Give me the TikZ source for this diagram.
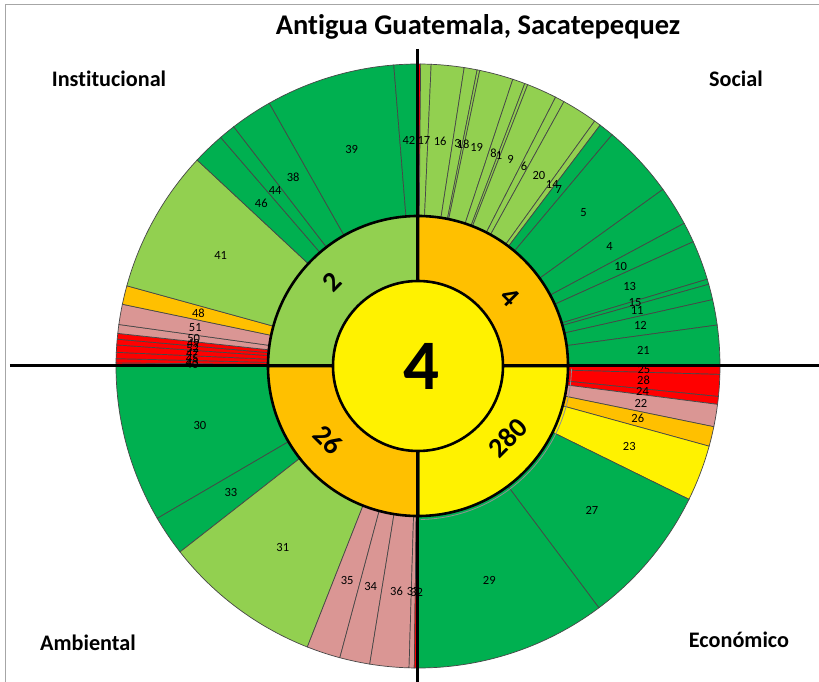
\documentclass[tikz,border=0pt]{standalone}
\usepackage{fontspec}
\setmainfont{Carlito}[Ligatures={NoCommon}]
\definecolor{dkgreen}{HTML}{00B050}
\definecolor{ltgreen}{HTML}{92D050}
\definecolor{amber}{HTML}{FFC000}
\definecolor{rosy}{HTML}{DA9694}
\definecolor{edge}{HTML}{474747}
\definecolor{frame}{HTML}{A6A6A6}
\pgfdeclarelayer{front}
\pgfsetlayers{main,front}
\def\rcore{85}
\def\rring{150}
\def\rout{302}
\def\rlab{226}
\def\ringseg[#1](#2:#3:#4){\draw[seg,fill=#1] (#2:\rring) arc (#2:#3:\rring) -- (#3:\rout) arc (#3:#2:\rout) -- cycle;
	\begin{pgfonlayer}{front}\node[lab] (i#4) at ({(#2+#3)/2}:\rlab) {#4};\end{pgfonlayer}}
\tikzset{
	seg/.style={draw=edge, line width=0.7pt},
	lab/.style={inner sep=0pt, font=\fontsize{12.5}{13}\selectfont},
	ring/.style={draw=black, line width=2.6pt},
	axis/.style={draw=black, line width=3pt},
	area/.style={font=\bfseries\fontsize{22.2}{24}\selectfont, anchor=base},
	quad/.style={font=\bfseries\fontsize{28}{30}\selectfont},
}

\begin{document}
\begin{tikzpicture}[x=1pt, y=1pt]
			%%%%% START %%%%%
			\useasboundingbox (-418,-316) rectangle (401,366);
			\fill[white] (-418,-316) rectangle (401,366);
			\draw[frame, line width=1pt] (-412,-316) -- (-412,361) -- (401,361);
			
			% institucional
			\ringseg[red](180:179.4:40)
			\ringseg[red](179.4:178.6:43)
			\ringseg[red](178.6:177.4:45)
			\ringseg[red](177.4:176:47)
			\ringseg[red](176:174.9:52)
			\ringseg[red](174.9:173.8:49)
			\ringseg[rosy](173.8:172.1:50)
			\ringseg[rosy](172.1:168.2:51)
			\ringseg[amber](168.2:164.6:48)
			\ringseg[ltgreen](164.6:137:41)
			\ringseg[dkgreen](137:130.8:46)
			\ringseg[dkgreen](130.8:127.6:44)
			\ringseg[dkgreen](127.6:119.5:38)
			\ringseg[dkgreen](119.5:94.6:39)
			\ringseg[dkgreen](94.6:90:42)
			
			% social
			\draw[seg, fill=red] (90:\rring) arc (90:89.5:\rring) -- (89.5:\rout) arc (89.5:90:\rout) -- cycle;
			\ringseg[ltgreen](89.5:87.5:17)
			\ringseg[ltgreen](87.5:81.2:16)
			\ringseg[ltgreen](81.2:78.7:3)
			\ringseg[ltgreen](78.7:78.2:18)
			\ringseg[ltgreen](78.2:71.7:19)
			\ringseg[ltgreen](71.7:69.3:8)
			\ringseg[ltgreen](69.3:68.7:1)
			\ringseg[ltgreen](68.7:62.9:9)
			\ringseg[ltgreen](62.9:61.1:6)
			\ringseg[ltgreen](61.1:54.2:20)
			\ringseg[ltgreen](54.2:52.9:14)
			\ringseg[dkgreen](52.9:50:7)
			\ringseg[dkgreen](50:35.8:5)
			\ringseg[dkgreen](35.8:28.2:4)
			\ringseg[dkgreen](28.2:24.3:10)
			\ringseg[dkgreen](24.3:16.7:13)
			\ringseg[dkgreen](16.7:15.7:15)
			\ringseg[dkgreen](15.7:12.7:11)
			\ringseg[dkgreen](12.7:7.8:12)
			\ringseg[dkgreen](7.8:0:21)
			
			% economico
			\ringseg[red](0:-1.6:25)
			\ringseg[red](-1.6:-5.8:28)
			\ringseg[red](-5.8:-7.3:24)
			\ringseg[rosy](-7.3:-11.6:22)
			\ringseg[amber](-11.6:-15.4:26)
			\ringseg[yellow](-15.4:-26.2:23)
			\ringseg[dkgreen](-26.2:-53.2:27)
			\ringseg[dkgreen](-53.2:-90:29)
			
			% ambiental
			\ringseg[dkgreen](180:210.3:30)
			\ringseg[dkgreen](210.3:218:33)
			\ringseg[ltgreen](218:248.5:31)
			\ringseg[rosy](248.5:255:35)
			\ringseg[rosy](255:260.8:34)
			\ringseg[rosy](260.8:268.3:36)
			\ringseg[rosy](268.3:269.3:37)
			\ringseg[red](269.3:270:32)
			
			% middle ring
			\draw[edge!60, line width=0.8pt] (-1:153.5) arc (-1:-89:153.5);
			\draw[ring, fill=ltgreen] (0,0) -- (180:\rring) arc (180:90:\rring) -- cycle;
			\draw[ring, fill=amber] (0,0) -- (90:\rring) arc (90:0:\rring) -- cycle;
			\draw[ring, fill=yellow] (0,0) -- (0:\rring) arc (0:-90:\rring) -- cycle;
			\draw[ring, fill=amber] (0,0) -- (-90:\rring) arc (-90:-180:\rring) -- cycle;
			
			\draw[axis] (-408,0) -- (401,0);
			\draw[axis] (0,317) -- (0,-316);
			
			\draw[ring, fill=yellow] (0,0) circle (\rcore);
			\node[font=\bfseries\fontsize{71}{72}\selectfont, inner sep=0pt] (core) at (3.5,0) {4};
			
			\node[quad, rotate=45] (inst) at (-86,84) {2};
			\node[quad, rotate=-45] (soc) at (92,69) {4};
			\node[quad, rotate=45] (eco) at (90,-72) {280};
			\node[quad, rotate=-45] (amb) at (-90,-74) {26};
			
			\node[font=\bfseries\fontsize{28.5}{30}\selectfont, anchor=base] (title) at (60,331) {Antigua Guatemala, Sacatepequez};
			\node[area] (tinst) at (-309,279) {Institucional};
			\node[area] (tsoc) at (318,279) {Social};
			\node[area] (tamb) at (-330,-284) {Ambiental};
			\node[area] (teco) at (321,-281) {Económico};
			
			%%%%% END %%%%%
\end{tikzpicture}
\end{document}
